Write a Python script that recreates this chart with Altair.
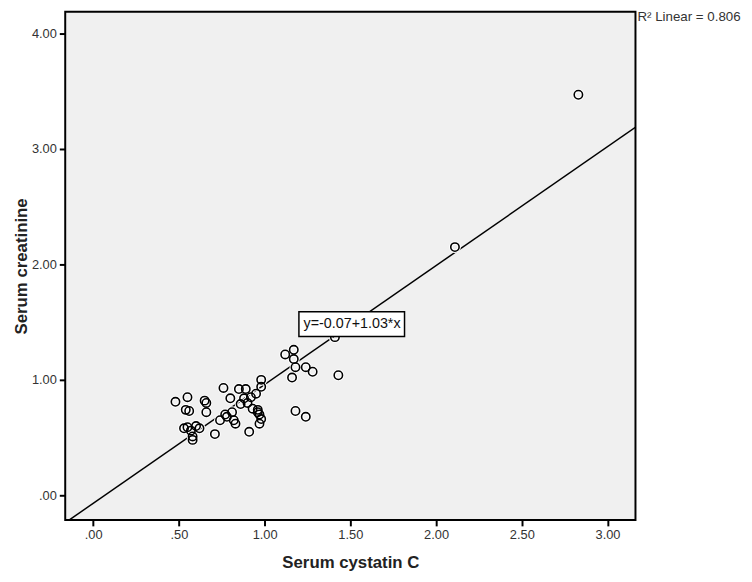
import altair as alt
import pandas as pd

# Scatter data: serum cystatin C (x) vs serum creatinine (y)
cystatin = [0.48, 0.55, 0.54, 0.56, 0.53, 0.55, 0.57, 0.58, 0.58, 0.60,
            0.62, 0.65, 0.66, 0.66, 0.71, 0.74, 0.76, 0.77, 0.78, 0.80,
            0.81, 0.82, 0.83, 0.85, 0.86, 0.88, 0.89, 0.90, 0.91, 0.92,
            0.93, 0.95, 0.96, 0.97, 0.97, 0.98, 0.98, 0.98, 0.96,
            1.12, 1.17, 1.17, 1.18, 1.24, 1.28, 1.16, 1.43, 1.41, 1.18,
            1.24, 2.11, 2.83]
creatinine = [0.81, 0.85, 0.74, 0.73, 0.58, 0.59, 0.56, 0.51, 0.48, 0.60,
              0.58, 0.82, 0.80, 0.72, 0.53, 0.65, 0.93, 0.70, 0.68, 0.84,
              0.72, 0.65, 0.62, 0.92, 0.79, 0.84, 0.92, 0.80, 0.55, 0.85,
              0.75, 0.88, 0.74, 0.70, 0.62, 0.66, 0.94, 1.00, 0.72,
              1.22, 1.26, 1.18, 1.11, 1.11, 1.07, 1.02, 1.04, 1.37, 0.73,
              0.68, 2.15, 3.47]

# Fit line y = -0.07 + 1.03 x
intercept = -0.07
slope = 1.03
line_x = [-0.3, 3.4]

# Annotation
eq_label = ["y=-0.07+1.03*x"]
eq_pos = [1.51, 1.483]
eq_box_x = [1.20, 1.816]
eq_box_y = [1.376, 1.59]
r2_label = ["R² Linear = 0.806"]

x_domain = [-0.163, 3.163]
y_domain = [-0.2137, 4.188]
x_ticks = [0, 0.5, 1, 1.5, 2, 2.5, 3]
y_ticks = [0, 1, 2, 3, 4]

pts = pd.DataFrame({"x": cystatin, "y": creatinine})
line_df = pd.DataFrame({"x": line_x, "y": [intercept + slope * v for v in line_x]})
eq_df = pd.DataFrame({"x": [eq_pos[0]], "y": [eq_pos[1]], "t": eq_label,
                      "x1": [eq_box_x[0]], "x2": [eq_box_x[1]],
                      "y1": [eq_box_y[0]], "y2": [eq_box_y[1]]})
r2_df = pd.DataFrame({"t": r2_label})

lab = "datum.value < 1 ? substring(format(datum.value, '.2f'), 1) : format(datum.value, '.2f')"

xs = alt.Scale(domain=x_domain, nice=False, zero=False)
ys = alt.Scale(domain=y_domain, nice=False, zero=False)
xax = alt.Axis(values=x_ticks, labelExpr=lab, title="Serum cystatin C", titlePadding=13)
yax = alt.Axis(values=y_ticks, labelExpr=lab, title="Serum creatinine", titlePadding=1)

line = alt.Chart(line_df).mark_line(color="black", strokeWidth=1.5, clip=True).encode(
    x=alt.X("x:Q", scale=xs, axis=xax),
    y=alt.Y("y:Q", scale=ys, axis=yax),
)

halo = alt.Chart(pts).mark_point(shape="circle", filled=False, color="white",
                                 size=72, strokeWidth=3.6, opacity=1).encode(
    x=alt.X("x:Q", scale=xs),
    y=alt.Y("y:Q", scale=ys),
)

points = alt.Chart(pts).mark_point(shape="circle", filled=False, color="black",
                                   size=72, strokeWidth=1.6, opacity=1).encode(
    x=alt.X("x:Q", scale=xs),
    y=alt.Y("y:Q", scale=ys),
)

box = alt.Chart(eq_df).mark_rect(fill="white", stroke="black", strokeWidth=1.5).encode(
    x=alt.X("x1:Q", scale=xs), x2="x2:Q",
    y=alt.Y("y1:Q", scale=ys), y2="y2:Q",
)

eq_text = alt.Chart(eq_df).mark_text(font="Liberation Sans", fontSize=14.5, color="#111",
                                     align="center", baseline="middle").encode(
    x=alt.X("x:Q", scale=xs),
    y=alt.Y("y:Q", scale=ys),
    text="t:N",
)

r2_text = alt.Chart(r2_df).mark_text(font="Liberation Sans", fontSize=13.5, color="#333",
                                     align="left", baseline="middle").encode(
    x=alt.value(580),
    y=alt.value(5),
    text="t:N",
)

chart = alt.layer(line, halo, points, box, eq_text, r2_text).properties(
    width=578, height=515,
    autosize=alt.AutoSizeParams(type="none"),
    padding={"left": 58, "top": 0, "right": 110, "bottom": 60},
).configure_view(
    fill="#f0f0f0", stroke="black", strokeWidth=2
).configure_axis(
    domain=False, grid=False, tickColor="black", tickWidth=2, tickSize=6,
    labelColor="#333", labelFont="Liberation Sans", labelFontSize=13, labelPadding=3,
    titleFont="Liberation Sans", titleFontSize=17, titleFontWeight="bold", titleColor="#222",
)

chart.save("out.html", embed_options={"renderer": "svg", "actions": False})
